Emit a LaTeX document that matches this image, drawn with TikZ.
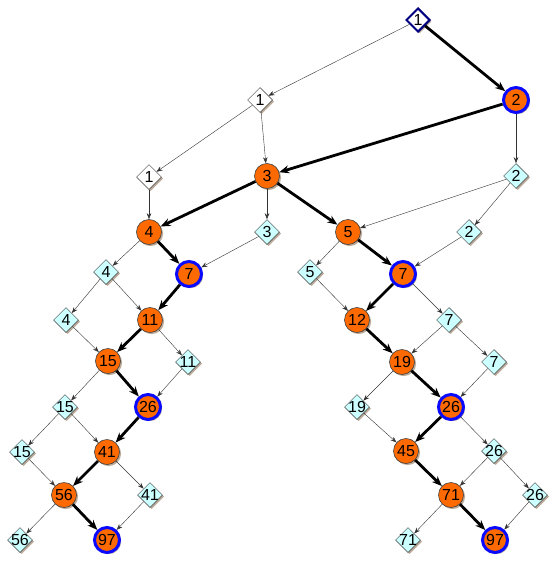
\documentclass[tikz,border=0pt]{standalone}
\usepackage{fontspec}
\setmainfont{Liberation Sans}
\usetikzlibrary{arrows.meta,shapes.geometric,shadows}
\definecolor{horange}{HTML}{FF6A00}
\definecolor{hcyan}{HTML}{CCFFFF}
\definecolor{hblue}{HTML}{0A0AFF}
\definecolor{hnavy}{HTML}{000080}
\newcommand{\hnum}[1]{\smash{\makebox[0pt]{\raisebox{-0.36em}{#1}}}}
\tikzset{
  hshadow/.style={drop shadow={shadow xshift=1.6pt, shadow yshift=-1.6pt,
                  fill=black!45!brown, opacity=0.45}},
  hcirc/.style={circle, draw=black!75, fill=horange, line width=0.6pt,
                minimum size=25pt, inner sep=0pt, hshadow},
  hbest/.style={circle, draw=hblue, fill=horange, line width=3pt,
                minimum size=25pt, inner sep=0pt, hshadow},
  hdiam/.style={diamond, draw=black!75, fill=hcyan, line width=0.5pt,
                minimum size=25pt, inner sep=0pt, hshadow},
  hwhite/.style={hdiam, fill=white},
  hstart/.style={hdiam, fill=white, draw=hnavy, line width=2pt, minimum size=24pt},
  hlink/.style={-{Stealth[length=6pt,width=4.5pt]}, black!80, line width=0.4pt},
  hpath/.style={-{Stealth[length=10pt,width=8pt]}, black, line width=2.8pt},
}
\begin{document}
\begin{tikzpicture}[x=1pt,y=-1pt,font=\fontsize{16}{16}\selectfont]
  \useasboundingbox (0,0) rectangle (556,565);

  % start and white diamonds
  \node[hstart] (s) at (418,20) {\hnum{1}};
  \node[hwhite] (w1a) at (260,100) {\hnum{1}};
  \node[hwhite] (w1b) at (149,177) {\hnum{1}};

  % orange circles
  \foreach \n/\x/\y/\t in {c3/267/176/3, c4/149/232/4, c5/348/232/5,
      c11/150/320/11, c12/357/320/12, c15/108/361/15, c19/402/362/19,
      c41/107/452/41, c45/406/451/45, c56/64/495/56, c71/451/495/71}
    \node[hcirc] (\n) at (\x,\y) {\hnum{\t}};

  % circles with blue ring
  \foreach \n/\x/\y/\t in {c2/516/100/2, b7a/189/274/7, b7b/403/274/7,
      b26a/148/407/26, b26b/451/407/26, b97a/107/540/97, b97b/495/540/97}
    \node[hbest] (\n) at (\x,\y) {\hnum{\t}};

  % cyan diamonds
  \foreach \n/\x/\y/\t in {q2a/516/176/2, q3/267/232/3, q2b/469/232/2,
      q4a/106/272/4, q5/310/272/5, q4b/66/320/4, q7a/449/320/7,
      q11/188/362/11, q7b/494/362/7, q15a/65/407/15, q19/357/407/19,
      q15b/22/452/15, q26a/494/451/26, q41/150/495/41, q26b/535/495/26,
      q56/20/540/56, q71/408/540/71}
    \node[hdiam] (\n) at (\x,\y) {\hnum{\t}};

  % thin links
  \foreach \a/\b in {s/w1a, c2/q2a, w1a/w1b, w1a/c3, w1b/c4, c3/q3,
      q2a/c5, q2a/q2b, c4/q4a, q3/b7a, c5/q5, q2b/b7b, q4a/q4b, q4a/c11,
      q5/c12, b7b/q7a, q4b/c15, c11/q11, q7a/c19, q7a/q7b, c15/q15a,
      q11/b26a, c19/q19, q7b/b26b, q15a/q15b, q15a/c41, q19/c45,
      b26b/q26a, q15b/c56, c41/q41, q26a/c71, q26a/q26b, c56/q56,
      q41/b97a, c71/q71, q26b/b97b}
    \draw[hlink] (\a) -- (\b);

  % thick path
  \foreach \a/\b in {s/c2, c2/c3, c3/c4, c3/c5, c4/b7a, c5/b7b, b7a/c11,
      b7b/c12, c11/c15, c12/c19, c15/b26a, c19/b26b, b26a/c41, b26b/c45,
      c41/c56, c45/c71, c56/b97a, c71/b97b}
    \draw[hpath] (\a) -- (\b);

\end{tikzpicture}
\end{document}
